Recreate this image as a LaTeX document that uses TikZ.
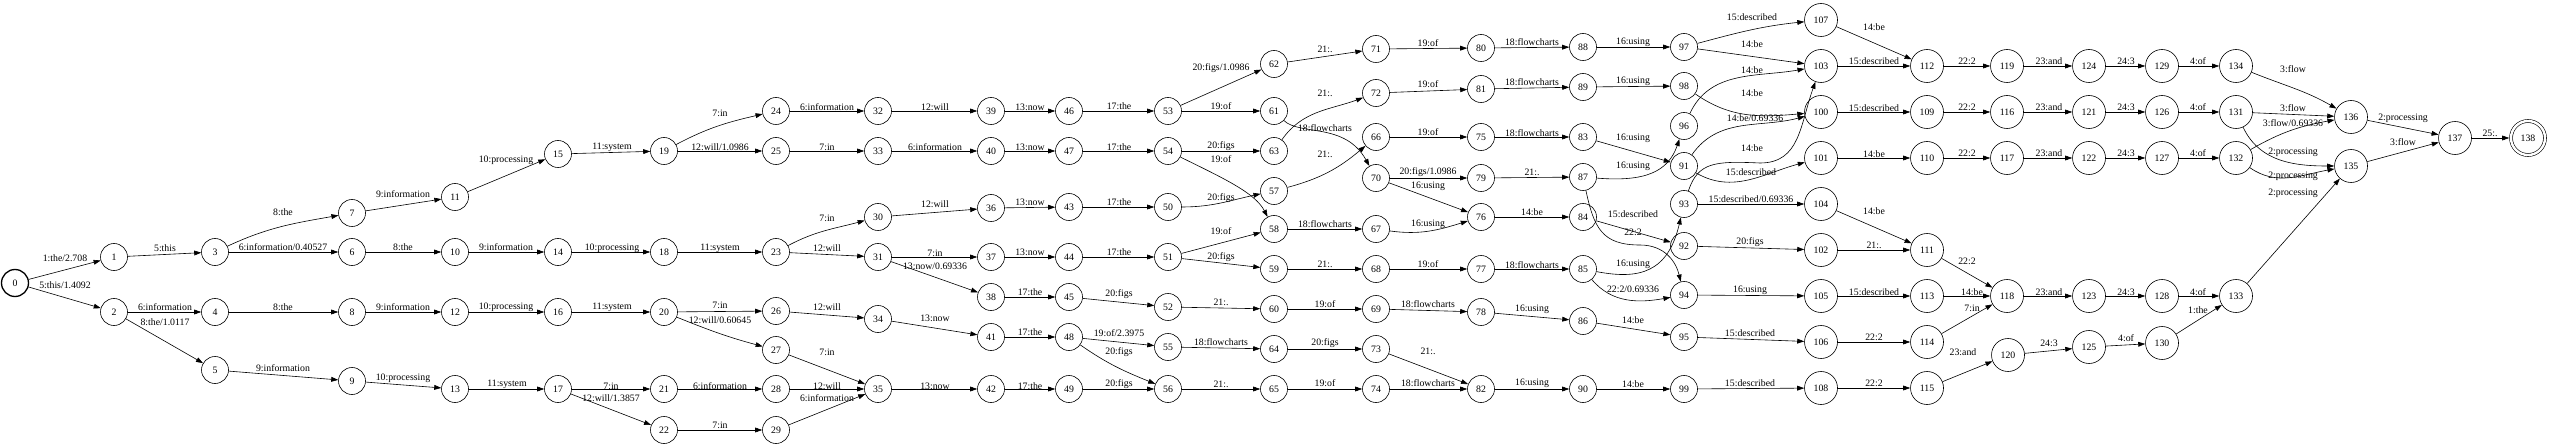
\documentclass[tikz,border=0pt]{standalone}
\usepackage{fontspec}
\newfontfamily\lf{Liberation Serif}
\usetikzlibrary{arrows.meta}
\newcommand{\lfs}{\lf\fontsize{9.8pt}{11pt}\selectfont}
\tikzset{
 st/.style={circle,draw,line width=0.6pt,minimum size=27pt,inner sep=0pt,font=\lfs},
 stb/.style={st,minimum size=33pt},
 stz/.style={st,line width=1.3pt},
 stf/.style={st,minimum size=34pt,double,double distance=2.4pt},
 e/.style={line width=0.6pt,-{Triangle[length=7pt,width=4.8pt]}},
 lbl/.style={font=\lfs,inner sep=0pt},
}
\newcommand{\Nd}[3][st]{\node[#1] (n#2) at (#3) {#2};}
\newcommand{\Ed}[5]{\draw[e] (n#1) #3 (n#2); \node[lbl] (l#1t#2) at (#4) {#5};}
\begin{document}
\begin{tikzpicture}[x=1pt,y=1pt]
\fill[white] (0,0) rectangle (2550,-446);
\useasboundingbox (0,0) rectangle (2550,-446);
\Nd[stz]{0}{15,-283}
\Nd{1}{114,-257}
\Nd{2}{114,-312}
\Nd{3}{215,-252}
\Nd{4}{215,-312}
\Nd{5}{215,-370}
\Nd{6}{352,-252}
\Nd{7}{352,-213}
\Nd{8}{352,-312}
\Nd{9}{352,-381}
\Nd{10}{455,-252}
\Nd{11}{455,-197}
\Nd{12}{455,-312}
\Nd{13}{455,-389}
\Nd{14}{558,-252}
\Nd{15}{558,-154}
\Nd{16}{558,-312}
\Nd{17}{558,-389}
\Nd{18}{664,-252}
\Nd{19}{664,-151}
\Nd{20}{664,-312}
\Nd{21}{664,-389}
\Nd{22}{664,-430}
\Nd{23}{776,-252}
\Nd{24}{776,-111}
\Nd{25}{776,-151}
\Nd{26}{776,-311}
\Nd{27}{776,-350}
\Nd{28}{776,-389}
\Nd{29}{776,-430}
\Nd{30}{878,-217}
\Nd{31}{878,-257}
\Nd{32}{878,-111}
\Nd{33}{878,-151}
\Nd{34}{878,-319}
\Nd{35}{878,-389}
\Nd{36}{991,-208}
\Nd{37}{991,-257}
\Nd{38}{991,-297}
\Nd{39}{991,-111}
\Nd{40}{991,-151}
\Nd{41}{991,-337}
\Nd{42}{991,-389}
\Nd{43}{1069,-207}
\Nd{44}{1069,-257}
\Nd{45}{1069,-297}
\Nd{46}{1069,-111}
\Nd{47}{1069,-151}
\Nd{48}{1069,-337}
\Nd{49}{1069,-389}
\Nd{50}{1168,-207}
\Nd{51}{1168,-257}
\Nd{52}{1168,-307}
\Nd{53}{1168,-111}
\Nd{54}{1168,-151}
\Nd{55}{1168,-347}
\Nd{56}{1168,-389}
\Nd{57}{1274,-191}
\Nd{58}{1274,-229}
\Nd{59}{1274,-269}
\Nd{60}{1274,-309}
\Nd{61}{1274,-111}
\Nd{62}{1274,-64}
\Nd{63}{1274,-151}
\Nd{64}{1274,-349}
\Nd{65}{1274,-389}
\Nd{66}{1376,-137}
\Nd{67}{1376,-229}
\Nd{68}{1376,-269}
\Nd{69}{1376,-309}
\Nd{70}{1376,-178}
\Nd{71}{1376,-49}
\Nd{72}{1376,-93}
\Nd{73}{1376,-349}
\Nd{74}{1376,-389}
\Nd{75}{1481,-137}
\Nd{76}{1481,-217}
\Nd{77}{1481,-269}
\Nd{78}{1481,-312}
\Nd{79}{1481,-178}
\Nd{80}{1481,-48}
\Nd{81}{1481,-89}
\Nd{82}{1481,-389}
\Nd{83}{1583,-137}
\Nd{84}{1583,-217}
\Nd{85}{1583,-269}
\Nd{86}{1583,-321}
\Nd{87}{1583,-177}
\Nd{88}{1583,-47}
\Nd{89}{1583,-87}
\Nd{90}{1583,-389}
\Nd{91}{1684,-166}
\Nd{92}{1684,-246}
\Nd{93}{1684,-204}
\Nd{94}{1684,-295}
\Nd{95}{1684,-337}
\Nd{96}{1684,-126}
\Nd{97}{1684,-47}
\Nd{98}{1684,-86}
\Nd{99}{1684,-389}
\Nd[stb]{100}{1821,-112}
\Nd[stb]{101}{1821,-158}
\Nd[stb]{102}{1821,-250}
\Nd[stb]{103}{1821,-66}
\Nd[stb]{104}{1821,-204}
\Nd[stb]{105}{1821,-296}
\Nd[stb]{106}{1821,-342}
\Nd[stb]{107}{1821,-20}
\Nd[stb]{108}{1821,-388}
\Nd[stb]{109}{1927,-112}
\Nd[stb]{110}{1927,-158}
\Nd[stb]{111}{1927,-250}
\Nd[stb]{112}{1927,-66}
\Nd[stb]{113}{1927,-296}
\Nd[stb]{114}{1927,-342}
\Nd[stb]{115}{1927,-388}
\Nd[stb]{116}{2007,-112}
\Nd[stb]{117}{2007,-158}
\Nd[stb]{118}{2007,-296}
\Nd[stb]{119}{2007,-66}
\Nd[stb]{120}{2008,-355}
\Nd[stb]{121}{2089,-112}
\Nd[stb]{122}{2089,-158}
\Nd[stb]{123}{2089,-296}
\Nd[stb]{124}{2089,-66}
\Nd[stb]{125}{2089,-347}
\Nd[stb]{126}{2162,-112}
\Nd[stb]{127}{2162,-158}
\Nd[stb]{128}{2162,-296}
\Nd[stb]{129}{2162,-66}
\Nd[stb]{130}{2162,-343}
\Nd[stb]{131}{2236,-112}
\Nd[stb]{132}{2236,-158}
\Nd[stb]{133}{2236,-296}
\Nd[stb]{134}{2236,-66}
\Nd[stb]{135}{2351,-166}
\Nd[stb]{136}{2351,-117}
\Nd[stb]{137}{2455,-138}
\Nd[stf]{138}{2528,-138}
\Ed{0}{1}{--}{65,-258}{1:the/2.708}
\Ed{0}{2}{--}{65,-285}{5:this/1.4092}
\Ed{1}{3}{--}{165,-248}{5:this}
\Ed{2}{4}{--}{165,-307}{6:information}
\Ed{2}{5}{--}{165,-322}{8:the/1.0117}
\Ed{3}{7}{to[out=25,in=190]}{283,-212}{8:the}
\Ed{3}{6}{--}{283,-247}{6:information/0.40527}
\Ed{4}{8}{--}{283,-307}{8:the}
\Ed{5}{9}{--}{283,-368}{9:information}
\Ed{7}{11}{--}{403,-194}{9:information}
\Ed{6}{10}{--}{403,-247}{8:the}
\Ed{8}{12}{--}{403,-307}{9:information}
\Ed{9}{13}{--}{403,-378}{10:processing}
\Ed{11}{15}{--}{506,-160}{10:processing}
\Ed{10}{14}{--}{506,-247}{9:information}
\Ed{12}{16}{--}{506,-307}{10:processing}
\Ed{13}{17}{--}{507,-384}{11:system}
\Ed{15}{19}{--}{612,-147}{11:system}
\Ed{14}{18}{--}{612,-248}{10:processing}
\Ed{16}{20}{--}{612,-307}{11:system}
\Ed{17}{21}{--}{611,-386}{7:in}
\Ed{17}{22}{--}{611,-398}{12:will/1.3857}
\Ed{19}{24}{to[out=28,in=193]}{720,-113}{7:in}
\Ed{19}{25}{--}{720,-147}{12:will/1.0986}
\Ed{18}{23}{--}{720,-248}{11:system}
\Ed{20}{26}{--}{720,-305}{7:in}
\Ed{20}{27}{to[out=-22,in=165]}{720,-320}{12:will/0.60645}
\Ed{21}{28}{--}{720,-386}{6:information}
\Ed{22}{29}{--}{720,-425}{7:in}
\Ed{24}{32}{--}{827,-107}{6:information}
\Ed{25}{33}{--}{827,-147}{7:in}
\Ed{23}{30}{to[out=28,in=195]}{827,-218}{7:in}
\Ed{23}{31}{--}{827,-248}{12:will}
\Ed{26}{34}{--}{827,-307}{12:will}
\Ed{27}{35}{--}{827,-352}{7:in}
\Ed{28}{35}{--}{827,-386}{12:will}
\Ed{29}{35}{--}{827,-398}{6:information}
\Ed{32}{39}{--}{935,-107}{12:will}
\Ed{33}{40}{--}{935,-147}{6:information}
\Ed{30}{36}{--}{935,-204}{12:will}
\Ed{31}{37}{--}{935,-253}{7:in}
\Ed{31}{38}{--}{935,-266}{13:now/0.69336}
\Ed{34}{41}{--}{935,-318}{13:now}
\Ed{35}{42}{--}{935,-386}{13:now}
\Ed{39}{46}{--}{1030,-107}{13:now}
\Ed{40}{47}{--}{1030,-147}{13:now}
\Ed{36}{43}{--}{1030,-202}{13:now}
\Ed{37}{44}{--}{1030,-252}{13:now}
\Ed{38}{45}{--}{1030,-292}{17:the}
\Ed{41}{48}{--}{1030,-332}{17:the}
\Ed{42}{49}{--}{1030,-386}{17:the}
\Ed{46}{53}{--}{1119,-106}{17:the}
\Ed{47}{54}{--}{1119,-147}{17:the}
\Ed{43}{50}{--}{1119,-202}{17:the}
\Ed{44}{51}{--}{1119,-252}{17:the}
\Ed{45}{52}{--}{1119,-294}{20:figs}
\Ed{48}{55}{--}{1119,-333}{19:of/2.3975}
\Ed{48}{56}{to[out=-35,in=158]}{1119,-352}{20:figs}
\Ed{49}{56}{--}{1119,-384}{20:figs}
\Ed{53}{62}{--}{1221,-68}{20:figs/1.0986}
\Ed{53}{61}{--}{1221,-106}{19:of}
\Ed{54}{63}{--}{1221,-146}{20:figs}
\Ed{54}{58}{.. controls (1225,-179) and (1255,-193) ..}{1221,-159}{19:of}
\Ed{50}{57}{to[out=0,in=192]}{1221,-198}{20:figs}
\Ed{51}{58}{--}{1221,-231}{19:of}
\Ed{51}{59}{--}{1221,-257}{20:figs}
\Ed{52}{60}{--}{1221,-302}{21:.}
\Ed{55}{64}{--}{1221,-342}{18:flowcharts}
\Ed{56}{65}{--}{1221,-384}{21:.}
\Ed{62}{71}{--}{1325,-49}{21:.}
\Ed{63}{72}{to[out=55,in=200]}{1325,-93}{21:.}
\Ed{61}{70}{.. controls (1300,-136) and (1345,-122) ..}{1325,-128}{18:flowcharts}
\Ed{57}{66}{to[out=15,in=220]}{1325,-154}{21:.}
\Ed{58}{67}{--}{1325,-224}{18:flowcharts}
\Ed{59}{68}{--}{1325,-264}{21:.}
\Ed{60}{69}{--}{1325,-304}{19:of}
\Ed{64}{73}{--}{1325,-343}{20:figs}
\Ed{65}{74}{--}{1325,-383}{19:of}
\Ed{71}{80}{--}{1428,-43}{19:of}
\Ed{72}{81}{--}{1428,-84}{19:of}
\Ed{66}{75}{--}{1428,-132}{19:of}
\Ed{70}{79}{--}{1428,-172}{20:figs/1.0986}
\Ed{70}{76}{--}{1428,-186}{16:using}
\Ed{67}{76}{to[out=-8,in=197]}{1428,-224}{16:using}
\Ed{68}{77}{--}{1428,-264}{19:of}
\Ed{69}{78}{--}{1428,-304}{18:flowcharts}
\Ed{73}{82}{--}{1428,-351}{21:.}
\Ed{74}{82}{--}{1428,-383}{18:flowcharts}
\Ed{80}{88}{--}{1532,-42}{18:flowcharts}
\Ed{81}{89}{--}{1532,-82}{18:flowcharts}
\Ed{75}{83}{--}{1532,-133}{18:flowcharts}
\Ed{79}{87}{--}{1532,-172}{21:.}
\Ed{76}{84}{--}{1532,-212}{14:be}
\Ed{77}{85}{--}{1532,-265}{18:flowcharts}
\Ed{78}{86}{--}{1532,-309}{16:using}
\Ed{82}{90}{--}{1532,-383}{16:using}
\Ed{88}{97}{--}{1633,-42}{16:using}
\Ed{89}{98}{--}{1633,-81}{16:using}
\Ed{83}{91}{--}{1633,-138}{16:using}
\Ed{87}{96}{.. controls (1645,-182) and (1668,-172) ..}{1633,-166}{16:using}
\Ed{84}{92}{--}{1633,-214}{15:described}
\Ed{87}{94}{.. controls (1594,-228) and (1602,-245) .. (1640,-245) .. controls (1665,-245) and (1676,-262) ..}{1633,-232}{22:2}
\Ed{85}{93}{.. controls (1640,-280) and (1668,-272) ..}{1633,-264}{16:using}
\Ed{85}{94}{to[out=-50,in=190]}{1633,-289}{22:2/0.69336}
\Ed{86}{95}{--}{1633,-320}{14:be}
\Ed{90}{99}{--}{1633,-384}{14:be}
\Ed{97}{107}{to[out=15,in=186]}{1752,-17}{15:described}
\Ed{97}{103}{--}{1752,-44}{14:be}
\Ed{96}{103}{to[out=65,in=190]}{1752,-70}{14:be}
\Ed{98}{100}{to[out=-35,in=185]}{1752,-93}{14:be}
\Ed{91}{100}{to[out=55,in=195]}{1755,-118}{14:be/0.69336}
\Ed{93}{103}{.. controls (1698,-162) and (1715,-161) .. (1760,-163) .. controls (1800,-163) and (1800,-125) ..}{1752,-148}{14:be}
\Ed{91}{101}{to[out=-30,in=195]}{1751,-172}{15:described}
\Ed{93}{104}{--}{1751,-199}{15:described/0.69336}
\Ed{92}{102}{--}{1750,-242}{20:figs}
\Ed{94}{105}{--}{1750,-290}{16:using}
\Ed{95}{106}{--}{1750,-333}{15:described}
\Ed{99}{108}{--}{1750,-383}{15:described}
\Ed{107}{112}{--}{1874,-27}{14:be}
\Ed{103}{112}{--}{1874,-61}{15:described}
\Ed{100}{109}{--}{1874,-108}{15:described}
\Ed{101}{110}{--}{1874,-154}{14:be}
\Ed{104}{111}{--}{1874,-211}{14:be}
\Ed{102}{111}{--}{1874,-245}{21:.}
\Ed{105}{113}{--}{1874,-292}{15:described}
\Ed{106}{114}{--}{1874,-337}{22:2}
\Ed{108}{115}{--}{1874,-383}{22:2}
\Ed{112}{119}{--}{1967,-61}{22:2}
\Ed{109}{116}{--}{1967,-107}{22:2}
\Ed{110}{117}{--}{1967,-153}{22:2}
\Ed{111}{118}{--}{1967,-261}{22:2}
\Ed{113}{118}{--}{1972,-292}{14:be}
\Ed{114}{118}{--}{1972,-308}{7:in}
\Ed{115}{120}{--}{1963,-352}{23:and}
\Ed{119}{124}{--}{2049,-61}{23:and}
\Ed{116}{121}{--}{2049,-107}{23:and}
\Ed{117}{122}{--}{2049,-153}{23:and}
\Ed{118}{123}{--}{2049,-292}{23:and}
\Ed{120}{125}{--}{2049,-343}{24:3}
\Ed{124}{129}{--}{2126,-61}{24:3}
\Ed{121}{126}{--}{2126,-107}{24:3}
\Ed{122}{127}{--}{2126,-153}{24:3}
\Ed{123}{128}{--}{2126,-292}{24:3}
\Ed{125}{130}{--}{2126,-338}{4:of}
\Ed{129}{134}{--}{2198,-61}{4:of}
\Ed{126}{131}{--}{2198,-107}{4:of}
\Ed{127}{132}{--}{2198,-153}{4:of}
\Ed{128}{133}{--}{2198,-292}{4:of}
\Ed{130}{133}{--}{2198,-310}{1:the}
\Ed{134}{136}{to[out=-22,in=150]}{2293,-69}{3:flow}
\Ed{131}{136}{--}{2293,-108}{3:flow}
\Ed{132}{136}{to[out=30,in=190]}{2293,-123}{3:flow/0.69336}
\Ed{131}{135}{to[out=-65,in=180]}{2293,-152}{2:processing}
\Ed{132}{135}{to[out=-35,in=190]}{2293,-176}{2:processing}
\Ed{133}{135}{--}{2293,-193}{2:processing}
\Ed{136}{137}{--}{2403,-118}{2:processing}
\Ed{135}{137}{--}{2403,-142}{3:flow}
\draw[e,shorten >=1.5pt] (n137) -- (n138);
\node[lbl] (l137t138) at (2490,-133) {25:.};
\end{tikzpicture}
\end{document}
